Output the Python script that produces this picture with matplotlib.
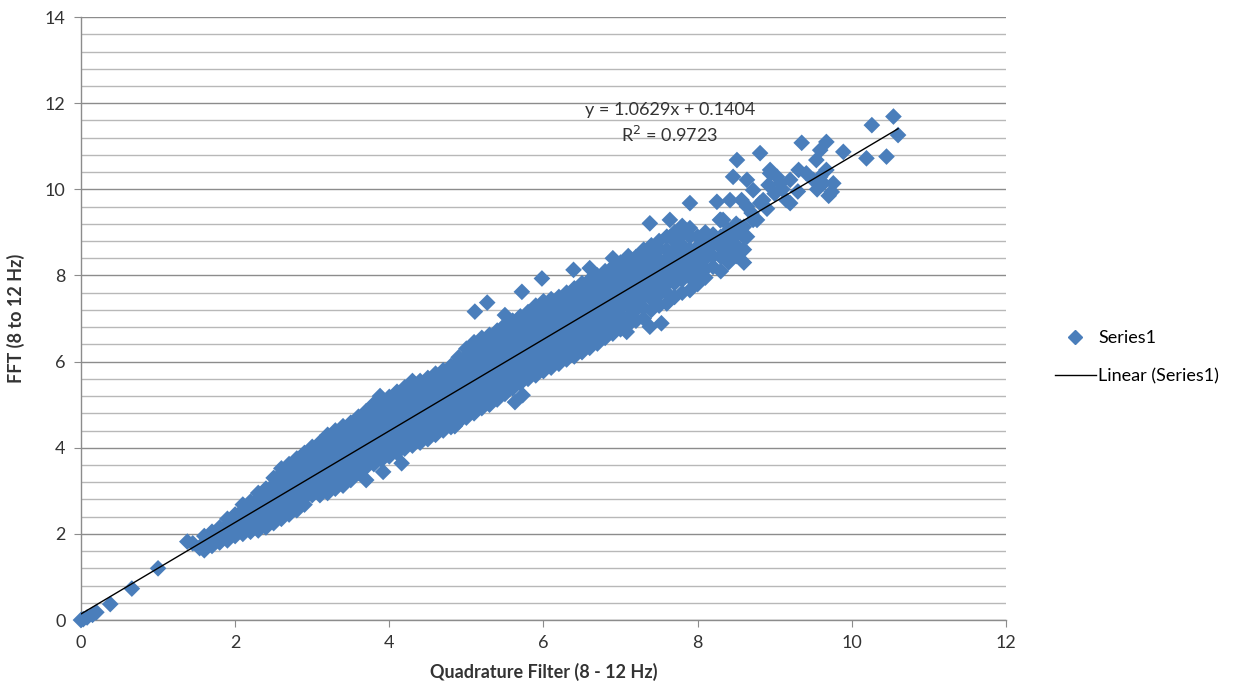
import numpy as np
import matplotlib
matplotlib.use("Agg")
import matplotlib.pyplot as plt
from matplotlib.ticker import MultipleLocator
from matplotlib.lines import Line2D

plt.rcParams['font.family'] = ['Lato', 'DejaVu Sans']

# points near the origin
qf_low = [0.0, 0.03, 0.08, 0.15, 0.2, 0.38, 0.66, 1.0, 1.38, 1.45, 1.54]
fft_low = [0.0, 0.02, 0.06, 0.12, 0.18, 0.37, 0.73, 1.2, 1.82, 1.78, 1.67]

# dense band, read column by column (x = quadrature filter value)
band_x = [1.6, 1.7, 1.8, 1.9, 2.0, 2.1, 2.2, 2.3, 2.4, 2.5,
          2.6, 2.7, 2.8, 2.9, 3.0, 3.1, 3.2, 3.3, 3.4, 3.5,
          3.6, 3.7, 3.8, 3.9, 4.0, 4.1, 4.2, 4.3, 4.4, 4.5,
          4.6, 4.7, 4.8, 4.9, 5.0, 5.1, 5.2, 5.3, 5.4, 5.5,
          5.6, 5.7, 5.8, 5.9, 6.0, 6.1, 6.2, 6.3, 6.4, 6.5,
          6.6, 6.7, 6.8, 6.9, 7.0]
band_fft = [
    [1.62, 1.8, 1.95],
    [1.72, 1.9, 2.05],
    [1.8, 1.98, 2.15],
    [1.85, 2.02, 2.2, 2.35],
    [1.95, 2.12, 2.3, 2.45],
    [2.0, 2.18, 2.36, 2.55, 2.68],
    [2.05, 2.22, 2.4, 2.58, 2.75],
    [2.08, 2.26, 2.44, 2.62, 2.8, 2.95],
    [2.15, 2.32, 2.5, 2.68, 2.86, 3.05],
    [2.25, 2.42, 2.6, 2.78, 2.96, 3.14, 3.3],
    [2.35, 2.5, 2.68, 2.86, 3.04, 3.22, 3.4, 3.52],
    [2.45, 2.62, 2.8, 2.98, 3.16, 3.34, 3.52, 3.62],
    [2.55, 2.7, 2.88, 3.06, 3.24, 3.42, 3.6, 3.75],
    [2.68, 2.84, 3.02, 3.2, 3.38, 3.56, 3.74, 3.88],
    [2.9, 3.02, 3.18, 3.36, 3.54, 3.72, 3.9, 4.02],
    [2.9, 3.06, 3.24, 3.42, 3.6, 3.78, 3.96, 4.12],
    [2.95, 3.12, 3.3, 3.48, 3.66, 3.84, 4.02, 4.2, 4.3],
    [3.05, 3.2, 3.38, 3.56, 3.74, 3.92, 4.1, 4.28, 4.4],
    [3.12, 3.28, 3.46, 3.64, 3.82, 4.0, 4.18, 4.36, 4.5],
    [3.25, 3.4, 3.58, 3.76, 3.94, 4.12, 4.3, 4.48, 4.58],
    [3.42, 3.56, 3.74, 3.92, 4.1, 4.28, 4.46, 4.64, 4.72],
    [3.55, 3.7, 3.88, 4.06, 4.24, 4.42, 4.6, 4.78, 4.85],
    [3.62, 3.8, 3.98, 4.16, 4.34, 4.52, 4.7, 4.88, 5.02],
    [3.72, 3.9, 4.08, 4.26, 4.44, 4.62, 4.8, 4.98, 5.1],
    [3.8, 3.96, 4.14, 4.32, 4.5, 4.68, 4.86, 5.04, 5.18],
    [3.88, 4.04, 4.22, 4.4, 4.58, 4.76, 4.94, 5.12, 5.3],
    [3.98, 4.14, 4.32, 4.5, 4.68, 4.86, 5.04, 5.22, 5.4],
    [4.05, 4.22, 4.4, 4.58, 4.76, 4.94, 5.12, 5.3, 5.45],
    [4.12, 4.3, 4.48, 4.66, 4.84, 5.02, 5.2, 5.38, 5.55],
    [4.2, 4.38, 4.56, 4.74, 4.92, 5.1, 5.28, 5.46, 5.62],
    [4.3, 4.48, 4.66, 4.84, 5.02, 5.2, 5.38, 5.56, 5.72],
    [4.4, 4.58, 4.76, 4.94, 5.12, 5.3, 5.48, 5.66, 5.8],
    [4.48, 4.66, 4.84, 5.02, 5.2, 5.38, 5.56, 5.74, 5.9],
    [4.6, 4.76, 4.94, 5.12, 5.3, 5.48, 5.66, 5.84, 6.0, 6.1],
    [4.7, 4.86, 5.04, 5.22, 5.4, 5.58, 5.76, 5.94, 6.12, 6.3],
    [4.8, 4.96, 5.14, 5.32, 5.5, 5.68, 5.86, 6.04, 6.22, 6.45],
    [4.92, 5.08, 5.26, 5.44, 5.62, 5.8, 5.98, 6.16, 6.34, 6.55],
    [5.0, 5.18, 5.36, 5.54, 5.72, 5.9, 6.08, 6.26, 6.44, 6.62],
    [5.12, 5.28, 5.46, 5.64, 5.82, 6.0, 6.18, 6.36, 6.54, 6.72],
    [5.25, 5.4, 5.58, 5.76, 5.94, 6.12, 6.3, 6.48, 6.66, 6.85],
    [5.38, 5.52, 5.7, 5.88, 6.06, 6.24, 6.42, 6.6, 6.78, 6.95],
    [5.5, 5.64, 5.82, 6.0, 6.18, 6.36, 6.54, 6.72, 6.9, 7.05],
    [5.6, 5.74, 5.92, 6.1, 6.28, 6.46, 6.64, 6.82, 7.0, 7.15],
    [5.68, 5.84, 6.02, 6.2, 6.38, 6.56, 6.74, 6.92, 7.1, 7.3],
    [5.78, 5.94, 6.12, 6.3, 6.48, 6.66, 6.84, 7.02, 7.2, 7.4],
    [5.86, 6.04, 6.22, 6.4, 6.58, 6.76, 6.94, 7.12, 7.3, 7.45],
    [5.95, 6.12, 6.3, 6.48, 6.66, 6.84, 7.02, 7.2, 7.38, 7.5],
    [6.05, 6.22, 6.4, 6.58, 6.76, 6.94, 7.12, 7.3, 7.48, 7.6],
    [6.12, 6.3, 6.48, 6.66, 6.84, 7.02, 7.2, 7.38, 7.56, 7.7],
    [6.22, 6.4, 6.58, 6.76, 6.94, 7.12, 7.3, 7.48, 7.66, 7.82],
    [6.32, 6.5, 6.68, 6.86, 7.04, 7.22, 7.4, 7.58, 7.76, 7.9],
    [6.42, 6.6, 6.78, 6.96, 7.14, 7.32, 7.5, 7.68, 7.86, 8.0],
    [6.55, 6.7, 6.88, 7.06, 7.24, 7.42, 7.6, 7.78, 7.96, 8.1],
    [6.65, 6.8, 6.98, 7.16, 7.34, 7.52, 7.7, 7.88, 8.06, 8.2],
    [6.75, 6.9, 7.08, 7.26, 7.44, 7.62, 7.8, 7.98, 8.16, 8.3],
]

# thinner part of the band
mid_x = [7.1, 7.2, 7.3, 7.4, 7.5, 7.6, 7.7, 7.8, 7.9, 8.0,
         8.1, 8.2, 8.3, 8.4, 8.5, 8.6]
mid_fft = [
    [6.85, 7.05, 7.3, 7.5, 7.7, 7.9, 8.1, 8.3, 8.45],
    [6.95, 7.2, 7.4, 7.6, 7.8, 8.0, 8.2, 8.43],
    [7.0, 7.25, 7.5, 7.7, 7.9, 8.1, 8.3, 8.6],
    [7.2, 7.45, 7.65, 7.85, 8.05, 8.25, 8.45, 8.7],
    [7.3, 7.55, 7.75, 7.95, 8.15, 8.35, 8.6, 8.8],
    [7.35, 7.6, 7.8, 8.0, 8.2, 8.4, 8.6, 8.9],
    [7.5, 7.82, 8.0, 8.2, 8.4, 8.6, 8.8, 9.0],
    [7.6, 7.9, 8.1, 8.3, 8.5, 8.7, 8.95, 9.15],
    [7.66, 7.95, 8.2, 8.4, 8.6, 8.9, 9.1],
    [7.8, 8.05, 8.3, 8.5, 8.67, 8.9],
    [7.95, 8.15, 8.4, 8.6, 8.8, 9.0],
    [8.2, 8.45, 8.75, 8.95],
    [8.1, 8.43, 8.65, 8.9, 9.29],
    [8.3, 8.55, 8.82, 9.05],
    [8.45, 8.7, 8.95, 9.2],
    [8.3, 8.6, 8.9, 9.13],
]

# scattered points off the band and at the top end
qf_out = [3.7, 3.92, 4.16, 4.85, 5.63, 5.73, 7.08, 7.38, 7.53,
          3.88, 4.3, 5.11, 5.27, 5.5, 5.72, 5.98, 6.39, 6.6, 6.9,
          7.38, 7.64, 7.9, 8.2, 8.25, 8.33, 8.42,
          8.51, 8.46, 8.64, 8.72, 8.81, 8.77, 8.57, 8.55, 8.64, 8.72,
          8.64, 8.81, 8.94, 9.03, 8.92, 9.07, 8.85, 9.15, 9.2, 9.2,
          9.31, 9.35, 9.41, 9.5, 9.54, 9.59, 9.67, 9.67, 9.63, 9.74,
          9.76, 9.59, 9.89, 10.19, 10.26, 10.45, 10.54, 10.6, 8.94,
          9.7, 9.55, 9.3, 9.0, 8.7, 8.9, 9.1, 8.42, 8.29]
fft_out = [3.25, 3.44, 3.64, 4.5, 5.06, 5.22, 6.69, 6.81, 6.89,
           5.2, 5.55, 7.16, 7.37, 7.08, 7.62, 7.93, 8.13, 8.17, 8.4,
           9.21, 9.29, 9.68, 8.75, 9.71, 9.29, 8.82,
           10.68, 10.29, 10.22, 9.98, 9.68, 9.29, 9.75, 9.13, 8.9, 9.29,
           9.6, 10.84, 10.45, 10.29, 10.1, 10.14, 9.75, 9.75, 9.68, 10.22,
           10.45, 11.08, 10.37, 10.22, 10.68, 10.91, 11.1, 10.45, 10.14, 9.94,
           10.14, 10.29, 10.87, 10.72, 11.49, 10.76, 11.69, 11.26, 10.37,
           9.85, 10.0, 9.95, 9.9, 9.45, 9.55, 10.0, 9.75, 9.29]

slope = 1.0629
intercept = 0.1404
r_squared = 0.9723

qf = list(qf_low) + list(qf_out)
fft = list(fft_low) + list(fft_out)
for xs, cols in ((band_x, band_fft), (mid_x, mid_fft)):
    for x, col in zip(xs, cols):
        qf += [x] * len(col)
        fft += col
qf = np.array(qf)
fft = np.array(fft)

fig = plt.figure(figsize=(12.36, 6.93), dpi=100)
ax = fig.add_axes([0.0655, 0.1053, 0.7484, 0.8701])

blue = '#4A7EBB'
ax.scatter(qf, fft, marker='D', s=72, color=blue, edgecolors='none',
           clip_on=False, zorder=3)

xl = np.array([qf.min(), qf.max()])
ax.plot(xl, slope * xl + intercept, color='black', lw=1.0, zorder=4)

ax.set_xlim(0, 12)
ax.set_ylim(0, 14)
ax.xaxis.set_major_locator(MultipleLocator(2))
ax.yaxis.set_major_locator(MultipleLocator(2))
ax.yaxis.set_minor_locator(MultipleLocator(0.4))
ax.grid(which='major', axis='y', color='#8C8C8C', lw=1.0, zorder=0)
ax.grid(which='minor', axis='y', color='#B8B8B8', lw=1.0, zorder=0)
ax.set_axisbelow(True)

for side in ('top', 'right'):
    ax.spines[side].set_visible(False)
for side in ('left', 'bottom'):
    ax.spines[side].set_color('#8C8C8C')
    ax.spines[side].set_linewidth(1.0)
ax.tick_params(which='major', direction='out', length=5, color='#8C8C8C',
               labelsize=13, labelcolor='#333333', pad=6)
ax.tick_params(which='minor', length=0)

ax.set_xlabel('Quadrature Filter (8 - 12 Hz)', fontsize=13, fontweight='bold',
              color='#333333', labelpad=8)
ax.set_ylabel('FFT (8 to 12 Hz)', fontsize=13, fontweight='bold',
              color='#333333', labelpad=14)

ax.text(7.64, 11.84, 'y = %.4fx + %.4f' % (slope, intercept), fontsize=13,
        ha='center', va='center', color='#333333')
ax.text(7.64, 11.26, 'R$^2$ = %.4f' % r_squared, fontsize=13,
        ha='center', va='center', color='#333333')

handles = [Line2D([], [], marker='D', ls='none', color=blue, ms=7),
           Line2D([], [], color='black', lw=1.0)]
ax.legend(handles, ['Series1', 'Linear (Series1)'], loc='center left',
          bbox_to_anchor=(1.035, 0.436), frameon=False, fontsize=13,
          handlelength=2.3, labelspacing=1.2, handletextpad=0.1)

fig.savefig('out.png', dpi=100)
